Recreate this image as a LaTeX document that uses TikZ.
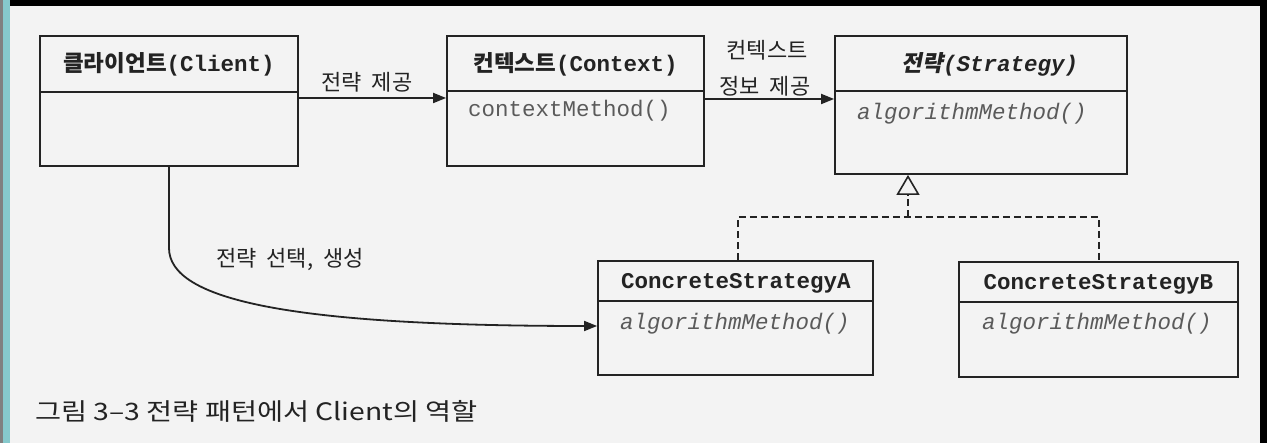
\documentclass[tikz,border=0pt]{standalone}
\usepackage{fontspec}
\setmonofont{Liberation Mono}
\newfontfamily\kr{Noto Sans CJK KR}
\newfontfamily\krsl{Noto Sans CJK KR}[FakeSlant=0.2]
\usetikzlibrary{arrows.meta}
\definecolor{bg}{RGB}{243,243,243}
\definecolor{teal1}{RGB}{134,201,204}
\definecolor{ink}{RGB}{35,35,35}
\definecolor{meth}{RGB}{90,90,90}
\newcommand{\wsp}{\hspace{0.45em}}
\tikzset{
  classbox/.style={draw=ink, line width=1.8pt, inner sep=0pt},
  divider/.style={draw=ink, line width=1.6pt},
  titletext/.style={font=\fontsize{22.5}{26}\selectfont, text=ink, inner sep=0pt},
  methtext/.style={font=\ttfamily\fontsize{22.5}{26}\selectfont, text=meth, anchor=west, inner sep=0pt},
  lbl/.style={font=\kr\fontsize{22}{25}\selectfont, text=ink, inner sep=0pt},
  arr/.style={draw=ink, line width=1.8pt, -{Triangle[length=13pt,width=10pt]}},
  realize/.style={draw=ink, line width=1.6pt, dash pattern=on 7pt off 4pt},
  inherit/.style={draw=ink, line width=1.6pt, -{Triangle[open,length=20pt,width=23pt]}}
}
\begin{document}
\begin{tikzpicture}[x=1pt,y=-1pt]
\useasboundingbox (0,0) rectangle (1267,443);
\fill[bg] (0,0) rectangle (1267,443);
\fill[black] (10,0) rectangle (1267,6);
\fill[black] (1260,0) rectangle (1267,443);
\fill[gray] (0,0) rectangle (3,443);
\fill[teal1] (3,0) rectangle (10,443);

% class boxes
\node[classbox, minimum width=258pt, minimum height=130pt] (client) at (169,101) {};
\node[classbox, minimum width=257pt, minimum height=130pt] (context) at (575.5,101) {};
\node[classbox, minimum width=292pt, minimum height=138pt] (strategy) at (981,105) {};
\node[classbox, minimum width=275pt, minimum height=114pt] (csa) at (735.5,318) {};
\node[classbox, minimum width=279pt, minimum height=115pt] (csb) at (1098.5,319.5) {};

% dividers
\draw[divider] (client.west |- 0,92) -- (client.east |- 0,92);
\draw[divider] (context.west |- 0,91) -- (context.east |- 0,91);
\draw[divider] (strategy.west |- 0,91) -- (strategy.east |- 0,91);
\draw[divider] (csa.west |- 0,301) -- (csa.east |- 0,301);
\draw[divider] (csb.west |- 0,302) -- (csb.east |- 0,302);

% titles
\node[titletext] (clientT) at (169,64) {{\kr\bfseries 클라이언트}{\ttfamily\bfseries (Client)}};
\node[titletext] (contextT) at (575.5,64) {{\kr\bfseries 컨텍스트}{\ttfamily\bfseries (Context)}};
\node[titletext] (strategyT) at (990,64) {{\krsl\bfseries 전략}{\ttfamily\bfseries\itshape (Strategy)}};
\node[titletext] (csaT) at (736,283) {\ttfamily\bfseries ConcreteStrategyA};
\node[titletext] (csbT) at (1098.5,284) {\ttfamily\bfseries ConcreteStrategyB};

% methods
\node[methtext] (contextM) at (468,111) {contextMethod()};
\node[methtext] (strategyM) at (857,114) {\itshape algorithmMethod()};
\node[methtext] (csaM) at (620,324) {\itshape algorithmMethod()};
\node[methtext] (csbM) at (982,324) {\itshape algorithmMethod()};

% associations
\draw[arr] (client.east |- 0,98) -- (context.west |- 0,98);
\node[lbl] (l1) at (367,82) {전략\wsp 제공};
\draw[arr] (context.east |- 0,99) -- (strategy.west |- 0,99);
\node[lbl] (l2) at (767,50) {컨텍스트};
\node[lbl] (l3) at (765,86) {정보\wsp 제공};

\coordinate (bend) at (169,248);
\draw[arr] (client.south) -- (bend) .. controls (169,300) and (290,326) .. (csa.west |- 0,326);
\node[lbl] (l4) at (290,259) {전략\wsp 선택,\wsp 생성};

% realization
\coordinate (jA) at (738,217);
\coordinate (jB) at (1099,217);
\coordinate (jM) at (908,217);
\coordinate (tb) at (908,196);
\draw[realize] (csa.north -| jA) -- (jA) -- (jB) -- (csb.north -| jB);
\draw[realize] (jM) -- (tb);
\draw[inherit] (tb) -- (strategy.south -| tb);

% caption
\node[font=\kr\fontsize{24}{27}\selectfont, text=ink, anchor=west, inner sep=0pt] (cap) at (35,411) {\scalebox{1.18}[1]{그림 3–3 전략 패턴에서 Client의 역할}};
\end{tikzpicture}
\end{document}
